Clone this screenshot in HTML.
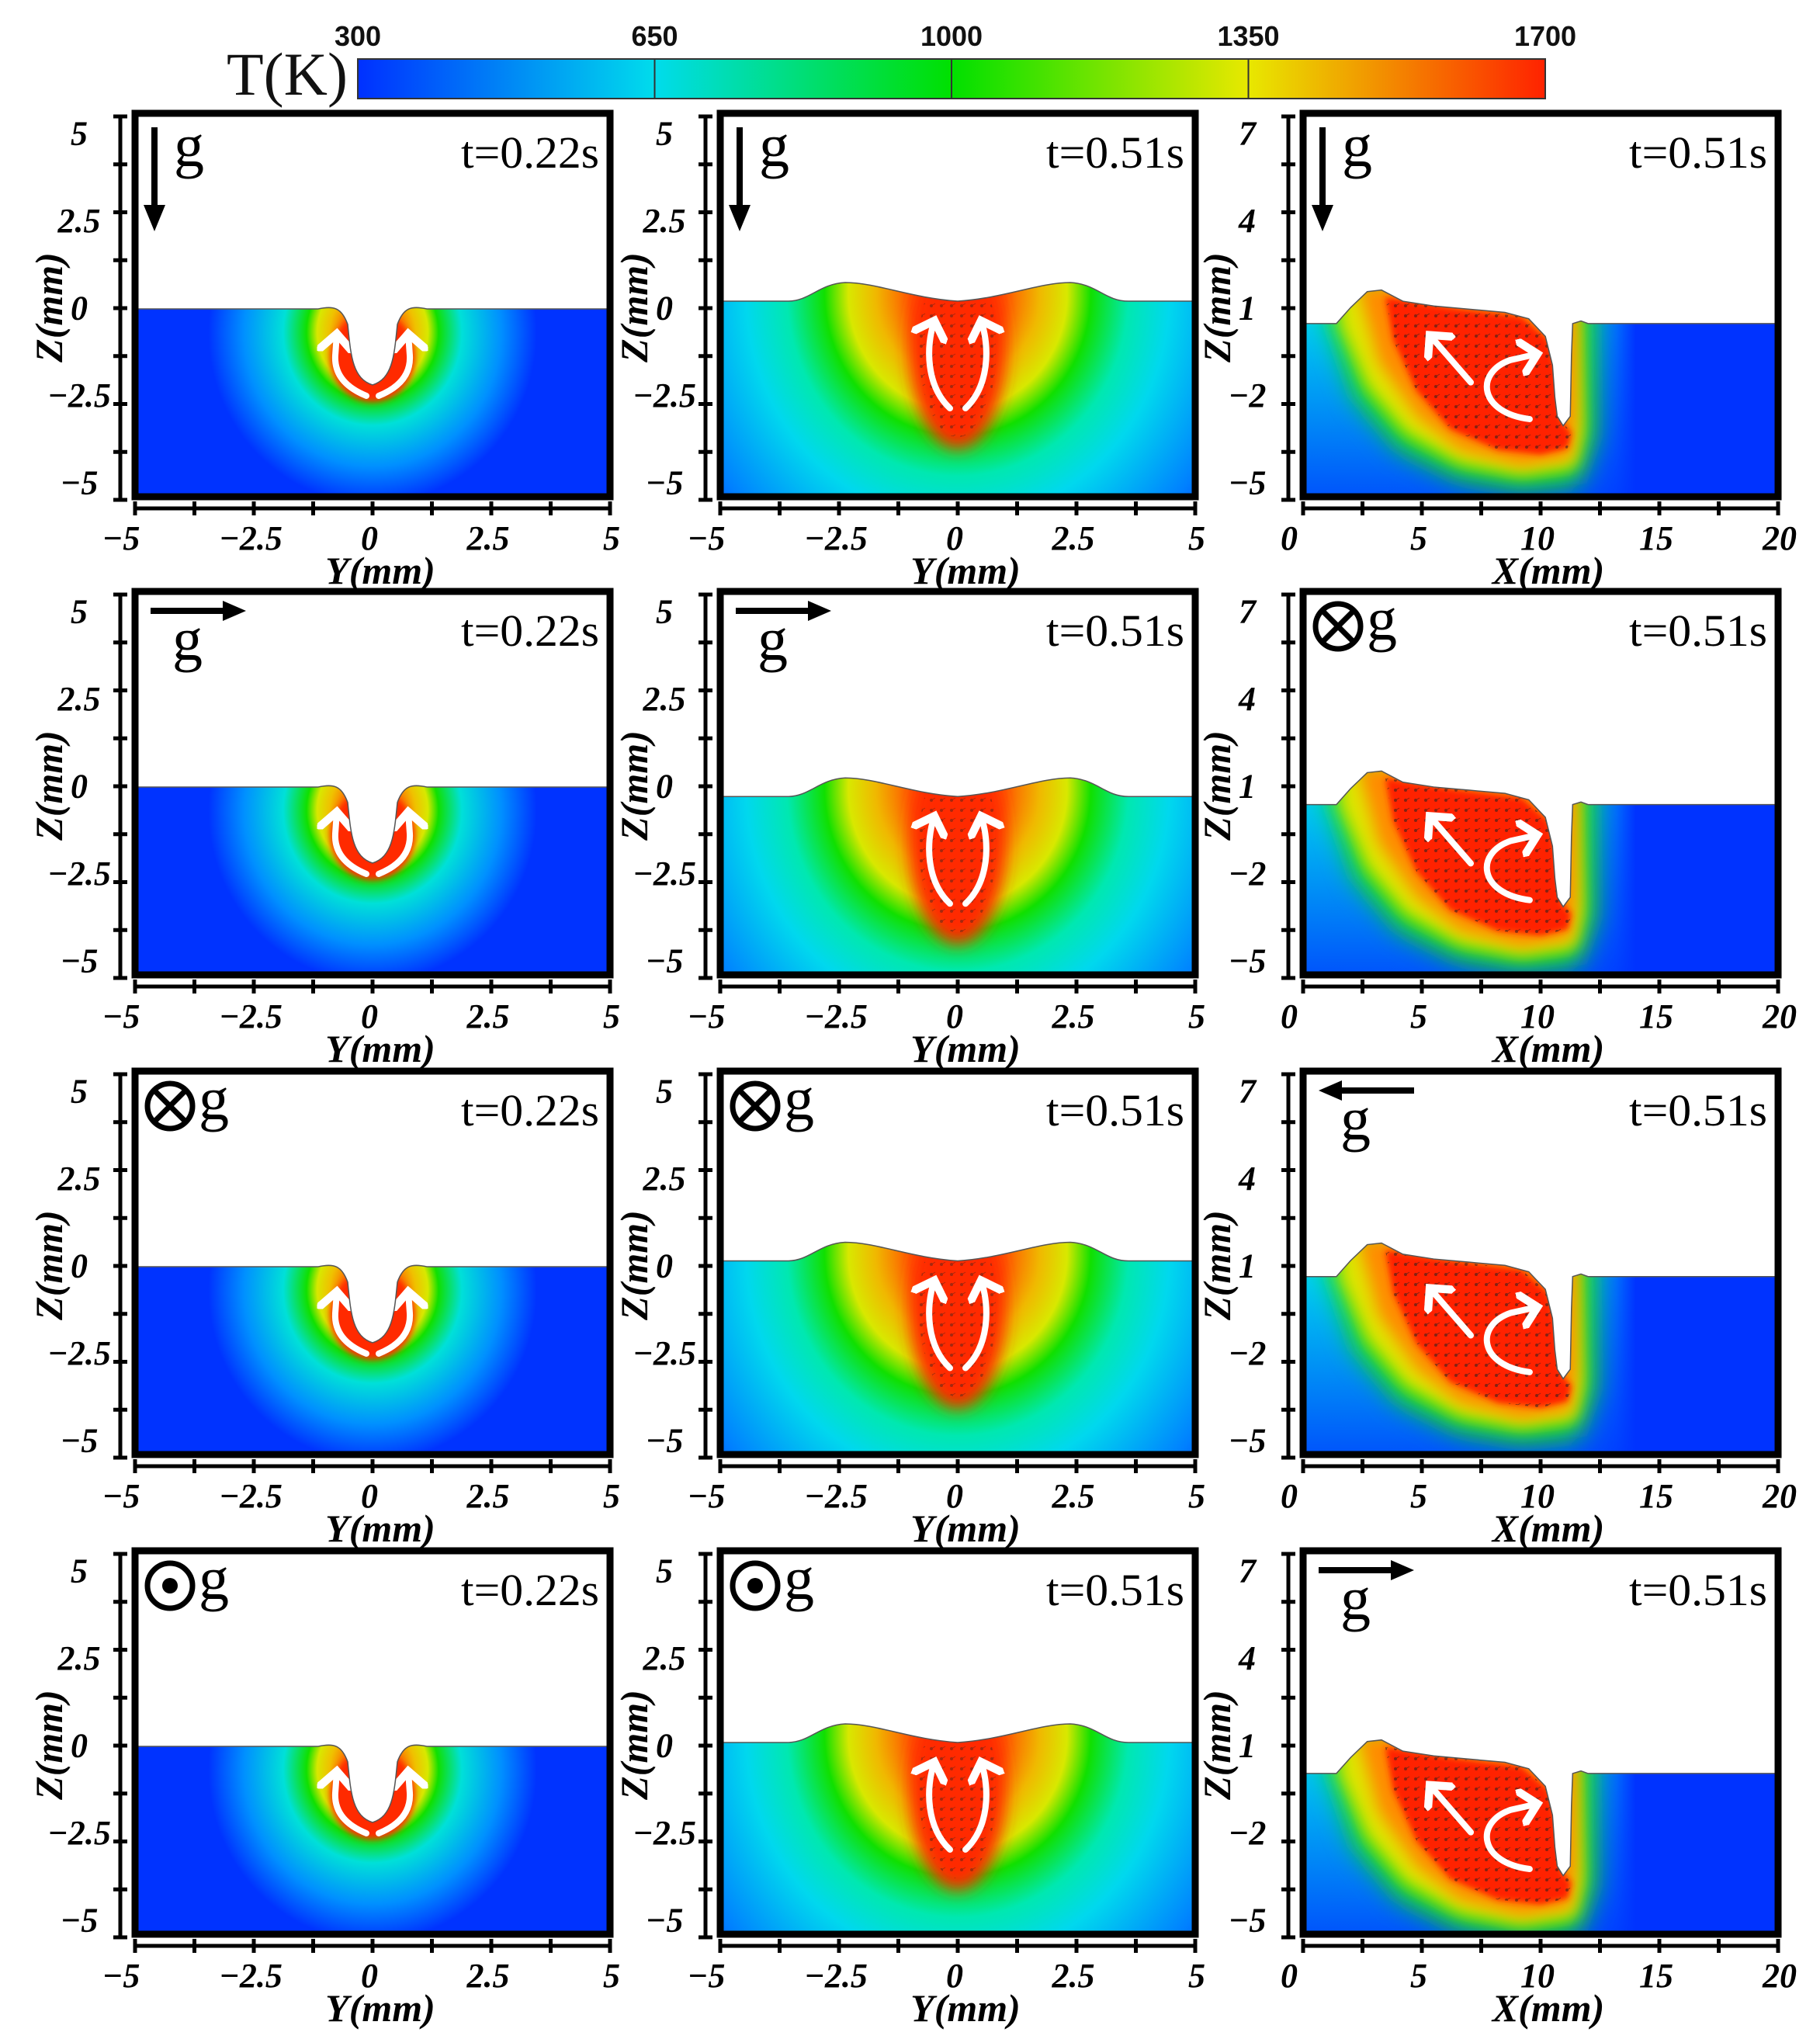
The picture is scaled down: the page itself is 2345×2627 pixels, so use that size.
<!DOCTYPE html>
<html><head><meta charset="utf-8"><title>Temperature fields</title>
<style>html,body{margin:0;padding:0;background:#fff;}svg{display:block;}</style></head>
<body>
<svg id="fig" xmlns="http://www.w3.org/2000/svg" width="2345" height="2627" viewBox="0 0 2345 2627">
<defs>
<linearGradient id="cbar" x1="0" x2="1" y1="0" y2="0">
<stop offset="0" stop-color="#0030ff"/><stop offset="0.25" stop-color="#00dcec"/><stop offset="0.5" stop-color="#00e000"/><stop offset="0.75" stop-color="#e8e800"/><stop offset="1" stop-color="#ff2200"/>
</linearGradient>
<radialGradient id="g1">
<stop offset="0" stop-color="#ff2200"/><stop offset="0.14" stop-color="#ff5a00"/><stop offset="0.24" stop-color="#f0c000"/><stop offset="0.31" stop-color="#d8e800"/><stop offset="0.37" stop-color="#10e000"/><stop offset="0.5" stop-color="#00e0d8"/><stop offset="0.72" stop-color="#0090ff"/><stop offset="0.92" stop-color="#0033ff"/><stop offset="1" stop-color="#0033ff"/>
</radialGradient>
<radialGradient id="g2">
<stop offset="0" stop-color="#ff2200"/><stop offset="0.14" stop-color="#ff5a00"/><stop offset="0.24" stop-color="#f0b800"/><stop offset="0.32" stop-color="#d8e800"/><stop offset="0.39" stop-color="#10e000"/><stop offset="0.5" stop-color="#00e8b0"/><stop offset="0.62" stop-color="#00d8ee"/><stop offset="0.85" stop-color="#0080ff"/><stop offset="1" stop-color="#0033ff"/>
</radialGradient>
<linearGradient id="c3base" x1="0" x2="1" y1="0" y2="0">
<stop offset="0" stop-color="#00d8ee"/><stop offset="0.55" stop-color="#00dcea"/><stop offset="0.66" stop-color="#0070ff"/><stop offset="0.7" stop-color="#0033ff"/><stop offset="1" stop-color="#0033ff"/>
</linearGradient>
<linearGradient id="c3shade" x1="0" x2="0" y1="0" y2="1">
<stop offset="0.5" stop-color="#0033ff" stop-opacity="0"/><stop offset="1" stop-color="#0033ff" stop-opacity="0.8"/>
</linearGradient>
<filter id="b4" x="-20%" y="-20%" width="140%" height="140%"><feGaussianBlur stdDeviation="4"/></filter>
<filter id="b10" x="-20%" y="-20%" width="140%" height="140%"><feGaussianBlur stdDeviation="10"/></filter>
<filter id="b16" x="-20%" y="-20%" width="140%" height="140%"><feGaussianBlur stdDeviation="16"/></filter>
<pattern id="dots" width="13" height="13" patternUnits="userSpaceOnUse"><circle cx="4" cy="4" r="2" fill="#222"/><line x1="4" y1="4" x2="9" y2="1" stroke="#222" stroke-width="1"/></pattern>
<marker id="ah" markerWidth="6" markerHeight="6" refX="3" refY="3" orient="auto" markerUnits="strokeWidth"><path d="M0,0 L3,3 L0,6" fill="none" stroke="#fff" stroke-width="1.3"/></marker>
</defs>
<g id="root"></g>
</svg>
<script>
// ---- data arrays ----
const cbTicks = [300, 650, 1000, 1350, 1700];
const yTicksYZ = [5, 2.5, 0, -2.5, -5];
const xTicksY = [-5, -2.5, 0, 2.5, 5];
const zTicksX = [7, 4, 1, -2, -5];
const xTicksX = [0, 5, 10, 15, 20];
const times = [["t=0.22s","t=0.51s","t=0.51s"],["t=0.22s","t=0.51s","t=0.51s"],["t=0.22s","t=0.51s","t=0.51s"],["t=0.22s","t=0.51s","t=0.51s"]];
const gravity = [["down","down","down"],["right","right","in"],["in","in","left"],["out","out","right"]];
const surfZ = [[-0.1,0.1,0.42],[-0.1,-0.35,0.33],[-0.1,0.05,0.57],[-0.1,0.0,0.03]];
const poolSurf = [[0,0],[1.4,0],[2.0,0.5],[2.7,1.0],[3.3,1.05],[4.2,0.7],[5.5,0.55],[7,0.45],[8.5,0.35],[9.5,0.15],[10.2,-0.4],[10.5,-1.3],[10.6,-2.3],[10.7,-2.9],[10.95,-3.2],[11.25,-2.9],[11.3,-1],[11.35,0],[11.7,0.08],[12,0],[20,0]];
const poolRed = [[3.46,0.83],[6.57,0.46],[9.18,0.22],[10.33,-0.51],[10.65,-1.5],[10.88,-3.06],[11.3,-3.42],[11.14,-3.9],[10.0,-4.1],[8.2,-3.95],[6.2,-3.3],[4.77,-2.09],[3.79,-0.51]];
const poolOrange = [[2.3,1.2],[11.5,1],[11.5,-3],[11.3,-4.2],[9.2,-4.45],[6.6,-3.95],[4.8,-2.9],[3.2,-1.2]];
const poolYellow = [[1.5,1.2],[11.6,1],[11.8,-3.4],[11.47,-4.5],[9.18,-4.76],[6.57,-4.39],[4.28,-3.42],[2.65,-1.97],[1.5,0]];
const poolGreen = [[1.0,1.2],[12.2,1],[12.3,-3.5],[11.6,-5.0],[9.2,-5.2],[6.5,-4.85],[4,-3.9],[2.2,-2.3],[1.0,0.3]];

const NS = "http://www.w3.org/2000/svg";
const root = document.getElementById("root");
function el(tag, attrs, parent) {
  const e = document.createElementNS(NS, tag);
  for (const k in attrs) e.setAttribute(k, attrs[k]);
  (parent || root).appendChild(e);
  return e;
}
function txt(s, attrs, parent) { const e = el("text", attrs, parent); e.textContent = s; return e; }

const CB = {x0: 461, x1: 1991, y0: 76, y1: 127};
const cbG = el("g", {});


el("rect", {x: CB.x0, y: CB.y0, width: CB.x1 - CB.x0, height: CB.y1 - CB.y0, fill: "url(#cbar)", stroke: "#333", "stroke-width": 2}, cbG);
const cbx = v => CB.x0 + (v - cbTicks[0]) / (cbTicks[cbTicks.length - 1] - cbTicks[0]) * (CB.x1 - CB.x0);
cbTicks.forEach((v, i) => {
  if (i > 0 && i < cbTicks.length - 1) el("line", {x1: cbx(v), x2: cbx(v), y1: CB.y0, y2: CB.y1, stroke: "#333", "stroke-width": 2}, cbG);
  const t = txt(String(v), {x: cbx(v), y: 59, "text-anchor": "middle", "font-family": "Liberation Sans, sans-serif", "font-weight": "bold", "font-size": 36, fill: "#111"}, cbG);
  
  
});
const tk = txt("T(K)", {x: 292, y: 122, "font-family": "Liberation Serif, serif", "font-size": 78, fill: "#111"}, cbG);



const rowsT = [146, 762, 1380, 1998];
const colsL = [174, 928, 1679];
const W = 612, H = 494;
let clipId = 0;

function gravityIcon(type, L, T, g) {
  const st = {stroke: "#000", "stroke-width": 8, fill: "none"};
  const gt = (x, y) => txt("g", {x: x, y: y, "font-family": "Liberation Serif, serif", "font-size": 78, fill: "#000"}, g);
  if (type === "down") {
    el("line", Object.assign({x1: L + 25, y1: T + 18, x2: L + 25, y2: T + 125}, st), g);
    el("path", {d: `M${L+11},${T+118} L${L+39},${T+118} L${L+25},${T+152} Z`, fill: "#000"}, g);
    gt(L + 50, T + 68);
  } else if (type === "right" || type === "left") {
    const y = T + 25, a = L + 20, b = L + 143;
    if (type === "right") {
      el("line", Object.assign({x1: a, y1: y, x2: b - 25, y2: y}, st), g);
      el("path", {d: `M${b-30},${y-13} L${b},${y} L${b-30},${y+13} Z`, fill: "#000"}, g);
    } else {
      el("line", Object.assign({x1: a + 25, y1: y, x2: b, y2: y}, st), g);
      el("path", {d: `M${a+30},${y-13} L${a},${y} L${a+30},${y+13} Z`, fill: "#000"}, g);
    }
    gt(L + 48, T + 88);
  } else {
    const cx = L + 45, cy = T + 45;
    el("circle", {cx: cx, cy: cy, r: 29, stroke: "#000", "stroke-width": 7, fill: "none"}, g);
    if (type === "in") {
      el("line", {x1: cx - 20, y1: cy - 20, x2: cx + 20, y2: cy + 20, stroke: "#000", "stroke-width": 7}, g);
      el("line", {x1: cx - 20, y1: cy + 20, x2: cx + 20, y2: cy - 20, stroke: "#000", "stroke-width": 7}, g);
    } else {
      el("circle", {cx: cx, cy: cy, r: 10, fill: "#000"}, g);
    }
    gt(L + 82, T + 62);
  }
}

for (let r = 0; r < 4; r++) {
  for (let c = 0; c < 3; c++) {
    const L = colsL[c], T = rowsT[r], R = L + W, B = T + H;
    const isX = c === 2;
    const px = isX ? (x => L + x / 20 * W) : (y => L + (y + 5) / 10 * W);
    const pz = isX ? (z => T + (7 - z) / 12 * H) : (z => T + (5 - z) / 10 * H);
    const zs = surfZ[r][c];
    const sy = pz(zs);
    const g = el("g", {});
    
    

    const cid = "clip" + (clipId++);
    const cp = el("clipPath", {id: cid}, g);
    let d;
    if (isX) {
      const sxm = W / 20, szm = H / 12;
      d = "M" + poolSurf.map(p => (L + p[0] * sxm) + "," + (sy - p[1] * szm)).join(" L") + ` L${R},${B} L${L},${B} Z`;
    } else if (c === 0) {
      const cx = px(0);
      d = `M${L},${sy} L${cx-70},${sy} C${cx-50},${sy-4} ${cx-40},${sy-2} ${cx-32},${sy+20} C${cx-28},${sy+60} ${cx-26},${sy+90} ${cx},${sy+98} C${cx+26},${sy+90} ${cx+28},${sy+60} ${cx+32},${sy+20} C${cx+40},${sy-2} ${cx+50},${sy-4} ${cx+70},${sy} L${R},${sy} L${R},${B} L${L},${B} Z`;
    } else {
      const cx = px(0);
      d = `M${L},${sy} L${cx-220},${sy} C${cx-190},${sy} ${cx-180},${sy-22} ${cx-145},${sy-24} C${cx-105},${sy-24} ${cx-60},${sy-4} ${cx},${sy} C${cx+60},${sy-4} ${cx+105},${sy-24} ${cx+145},${sy-24} C${cx+180},${sy-22} ${cx+190},${sy} ${cx+220},${sy} L${R},${sy} L${R},${B} L${L},${B} Z`;
    }
    el("path", {d: d}, cp);
    const f = el("g", {"clip-path": `url(#${cid})`}, g);
    
    
    const arrows = [];
    if (c === 0) {
      const cx = px(0);
      el("rect", {x: L, y: T, width: W, height: H, fill: "#0033ff"}, f);
      el("ellipse", {cx: cx, cy: sy + 30, rx: 230, ry: 240, fill: "url(#g1)"}, f);
      el("ellipse", {cx: cx, cy: sy + 62, rx: 55, ry: 58, fill: "#ff2a00", filter: "url(#b4)"}, f);
      arrows.push(`M${cx-8},${sy+112} Q${cx-50},${sy+95} ${cx-48},${sy+60} L${cx-46},${sy+32}`);
      arrows.push(`M${cx+8},${sy+112} Q${cx+50},${sy+95} ${cx+48},${sy+60} L${cx+46},${sy+32}`);
    } else if (c === 1) {
      const cx = px(0);
      el("rect", {x: L, y: T, width: W, height: H, fill: "#0040ff"}, f);
      el("ellipse", {cx: cx, cy: sy - 10, rx: 440, ry: 470, fill: "url(#g2)"}, f);
      el("ellipse", {cx: cx, cy: sy + 60, rx: 62, ry: 130, fill: "#ff2a00", filter: "url(#b10)"}, f);
      el("ellipse", {cx: cx, cy: sy + 60, rx: 50, ry: 115, fill: "url(#dots)", opacity: 0.4}, f);
      arrows.push(`M${cx-10},${sy+138} C${cx-40},${sy+110} ${cx-42},${sy+60} ${cx-30},${sy+25}`);
      arrows.push(`M${cx+10},${sy+138} C${cx+40},${sy+110} ${cx+42},${sy+60} ${cx+30},${sy+25}`);
    } else {
      const sxm = W / 20, szm = H / 12;
      const poly = pts => "M" + pts.map(p => (L + p[0] * sxm) + "," + (sy - p[1] * szm)).join(" L") + " Z";
      el("rect", {x: L, y: T, width: W, height: H, fill: "url(#c3base)"}, f);
      el("rect", {x: L, y: T, width: W * 0.7, height: H, fill: "url(#c3shade)"}, f);
      el("path", {d: poly(poolGreen), fill: "#18e010", filter: "url(#b16)"}, f);
      el("path", {d: poly(poolYellow), fill: "#e0e400", filter: "url(#b10)"}, f);
      el("path", {d: poly(poolOrange), fill: "#ff8a00", filter: "url(#b10)"}, f);
      el("path", {d: poly(poolRed), fill: "#ff2400", filter: "url(#b4)"}, f);
      el("path", {d: poly(poolRed), fill: "url(#dots)", opacity: 0.55}, f);
      const P = (x, z) => (L + x * sxm) + "," + (sy - z * szm);
      arrows.push(`M${P(7.06,-1.84)} L${P(5.33,-0.36)}`);
      arrows.push(`M${P(9.54,-2.99)} C${P(7.39,-2.79)} ${P(7.22,-1.53)} ${P(8.73,-1.14)} L${P(9.87,-0.95)}`);
    }
    arrows.forEach(a => {
      const p = el("path", {d: a, fill: "none", stroke: "#fff", "stroke-width": 8, "stroke-linecap": "round", "marker-end": "url(#ah)"}, g);
      
      
    });
    el("path", {d: d.split(` L${R},${B}`)[0], fill: "none", stroke: "#555", "stroke-width": 1.5}, g);

    const fr = el("rect", {x: L, y: T, width: W, height: H, fill: "none", stroke: "#000", "stroke-width": 9}, g);
    
    

    const tl = txt(times[r][c], {x: R - 14, y: T + 70, "text-anchor": "end", "font-family": "Liberation Serif, serif", "font-size": 58, fill: "#000", textLength: 178, lengthAdjust: "spacingAndGlyphs"}, g);
    
    

    const gi = el("g", {}, g);
    
    
    gravityIcon(gravity[r][c], L, T, gi);

    const ya = el("g", {}, g);
    
    
    const axX = L - 19;
    el("line", {x1: axX, y1: T + 2, x2: axX, y2: B + 6, stroke: "#000", "stroke-width": 5}, ya);
    const zt = isX ? zTicksX : yTicksYZ;
    const zTop = zt[0], zBot = zt[zt.length - 1];
    const zz = z => (T + 4) + (zTop - z) / (zTop - zBot) * H;
    const nMinor = (zt.length - 1) * 2;
    for (let k = 0; k <= nMinor; k++) {
      const yy = (T + 4) + k / nMinor * H;
      el("line", {x1: axX - 9, x2: axX + 9, y1: yy, y2: yy, stroke: "#000", "stroke-width": 5}, ya);
    }
    const mid = T + 4 + H / 2;
    zt.forEach(z => {
      const yy = mid + (zz(z) - mid) * 0.91;
      const lab = String(z).replace("-", "\u2212");
      const t = txt(lab, {x: L - 72, y: yy, "text-anchor": "middle", "dominant-baseline": "central", "font-family": "Liberation Serif, serif", "font-style": "italic", "font-weight": "bold", "font-size": 44, fill: "#000"}, ya);
      
      
    });
    const zt2 = txt("Z(mm)", {x: 0, y: 0, transform: `translate(${L-94},${T+250}) rotate(-90)`, "text-anchor": "middle", "font-family": "Liberation Serif, serif", "font-style": "italic", "font-weight": "bold", "font-size": 50, fill: "#000"}, ya);
    
    

    const xa = el("g", {}, g);
    
    
    const axY = B + 15;
    el("line", {x1: L, y1: axY, x2: R, y2: axY, stroke: "#000", "stroke-width": 5}, xa);
    const xt = isX ? xTicksX : xTicksY;
    const nx = (xt.length - 1) * 2;
    for (let k = 0; k <= nx; k++) {
      const xx = L + k / nx * W;
      el("line", {x1: xx, x2: xx, y1: axY - 9, y2: axY + 9, stroke: "#000", "stroke-width": 5}, xa);
    }
    xt.forEach((v, i) => {
      const xx = px(v) + (i === 0 ? -18 : (i === xt.length - 1 ? 2 : -4));
      const lab = String(v).replace("-", "\u2212");
      const t = txt(lab, {x: xx, y: B + 68, "text-anchor": "middle", "font-family": "Liberation Serif, serif", "font-style": "italic", "font-weight": "bold", "font-size": 44, fill: "#000"}, xa);
      
      
    });
    const xtt = txt(isX ? "X(mm)" : "Y(mm)", {x: L + W / 2 + 10, y: B + 112, "text-anchor": "middle", "font-family": "Liberation Serif, serif", "font-style": "italic", "font-weight": "bold", "font-size": 50, fill: "#000"}, xa);
    
    
  }
}
</script>
</body></html>
